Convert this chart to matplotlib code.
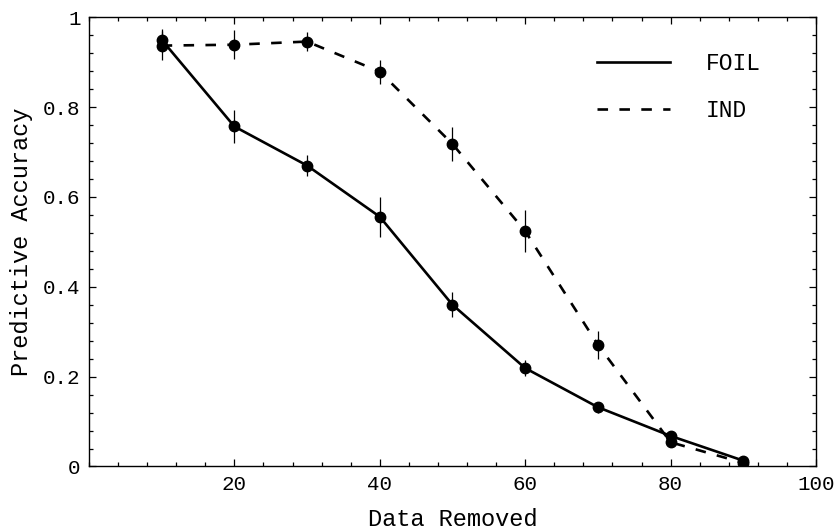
import numpy as np
import matplotlib
matplotlib.use("Agg")
import matplotlib.pyplot as plt
from matplotlib.ticker import FixedLocator, MultipleLocator, FuncFormatter

# Данные
data_removed = [10, 20, 30, 40, 50, 60, 70, 80, 90]

foil_acc = [0.950, 0.757, 0.670, 0.556, 0.360, 0.219, 0.132, 0.068, 0.013]
foil_err = [0.025, 0.036, 0.023, 0.045, 0.028, 0.017, 0.012, 0.008, 0.005]

ind_acc = [0.937, 0.939, 0.946, 0.879, 0.718, 0.524, 0.271, 0.054, 0.008]
ind_err = [0.032, 0.032, 0.022, 0.027, 0.037, 0.046, 0.031, 0.008, 0.004]

x_ticks = [20, 40, 60, 80, 100]
y_ticks = [0, 0.2, 0.4, 0.6, 0.8, 1.0]

FONT = "Liberation Mono"
FS_TICK = 15
FS_LABEL = 17
FS_LEG = 16.5


def fmt_y(v, pos):
    if abs(v) < 1e-9:
        return "0"
    if abs(v - 1) < 1e-9:
        return "1"
    return f"{v:.1f}"


def main():
    plt.rcParams["font.family"] = FONT
    fig = plt.figure(figsize=(8.39, 5.31), dpi=100)
    ax = fig.add_axes([0.106, 0.1215, 0.8666, 0.8459])

    # линии
    ax.plot(data_removed, foil_acc, color="black", lw=1.9, label="FOIL")
    ax.plot(data_removed, ind_acc, color="black", lw=1.9, dashes=(4, 4.3),
            label="IND")

    # точки с погрешностями
    ax.errorbar(data_removed, foil_acc, yerr=foil_err, fmt="o", color="black",
                ms=7.5, elinewidth=0.9, capsize=0)
    ax.errorbar(data_removed, ind_acc, yerr=ind_err, fmt="o", color="black",
                ms=7.5, elinewidth=0.9, capsize=0)

    ax.set_xlim(0, 100)
    ax.set_ylim(0, 1)

    ax.xaxis.set_major_locator(FixedLocator(x_ticks))
    ax.xaxis.set_minor_locator(MultipleLocator(4))
    ax.yaxis.set_major_locator(FixedLocator(y_ticks))
    ax.yaxis.set_minor_locator(MultipleLocator(0.04))
    ax.yaxis.set_major_formatter(FuncFormatter(fmt_y))

    ax.tick_params(which="both", direction="in", top=True, right=True,
                   labelsize=FS_TICK, width=0.9)
    ax.tick_params(which="major", length=5, pad=6)
    ax.tick_params(which="minor", length=3)
    for s in ax.spines.values():
        s.set_linewidth(1.0)

    ax.set_xlabel("Data Removed", fontsize=FS_LABEL, labelpad=10)
    ax.set_ylabel("Predictive Accuracy", fontsize=FS_LABEL, labelpad=7)

    ax.legend(loc="upper left", bbox_to_anchor=(0.686, 0.944), frameon=False,
              fontsize=FS_LEG, handlelength=3.2, handletextpad=1.55,
              labelspacing=1.05, borderaxespad=0)

    fig.savefig("out.png", dpi=100)


if __name__ == "__main__":
    main()
